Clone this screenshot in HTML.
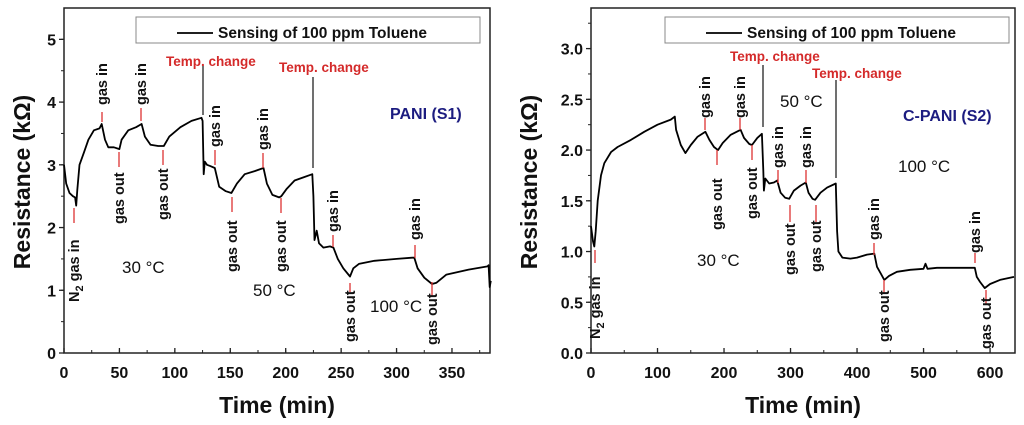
<!DOCTYPE html>
<html><head><meta charset="utf-8"><style>
body{margin:0;background:#fff}
svg{display:block;font-family:"Liberation Sans",Arial,sans-serif}
</style></head><body>
<svg id="s" width="1024" height="425" viewBox="0 0 1024 425"></svg>
<script>
// Left panel data (time min, resistance kOhm)
const leftTime=[0,2,5,8,10,11,12,14,18,22,27,32,34,37,40,45,50,52,58,65,70,73,78,85,90,95,105,115,124,125,126,127,129,132,136,140,146,151,156,163,172,180,183,188,194,196,201,208,216,224,225,226,228,230,234,240,243,247,252,258,261,266,280,300,314,316,319,325,332,336,345,365,382,383,384,385];
const leftRes=[3.0,2.7,2.55,2.5,2.48,2.35,2.6,3.0,3.2,3.4,3.55,3.58,3.65,3.4,3.28,3.28,3.25,3.4,3.55,3.6,3.65,3.45,3.32,3.3,3.3,3.45,3.6,3.7,3.75,3.7,2.85,3.05,3.0,2.98,2.95,2.65,2.58,2.55,2.7,2.85,2.9,2.95,2.7,2.52,2.48,2.5,2.62,2.75,2.8,2.85,2.5,1.8,1.95,1.75,1.68,1.7,1.68,1.5,1.35,1.22,1.35,1.42,1.47,1.5,1.52,1.52,1.35,1.2,1.1,1.12,1.25,1.33,1.38,1.4,1.05,1.15];
// Right panel data
const rightTime=[0,3,5,7,10,15,20,30,40,60,80,100,120,126,128,135,142,150,160,172,178,185,191,198,210,225,230,238,242,250,257,259,260,262,268,275,280,285,292,298,305,315,323,327,333,337,345,355,368,370,372,378,390,400,415,426,430,436,441,448,460,480,500,503,506,520,540,560,577,580,585,592,600,615,636];
const rightRes=[1.25,1.1,1.05,1.2,1.5,1.75,1.87,1.98,2.03,2.1,2.18,2.25,2.3,2.33,2.2,2.05,1.97,2.05,2.13,2.18,2.1,2.03,2.0,2.07,2.15,2.2,2.12,2.06,2.05,2.12,2.16,1.8,1.6,1.72,1.67,1.68,1.7,1.58,1.53,1.52,1.6,1.65,1.68,1.58,1.52,1.51,1.58,1.63,1.67,1.2,1.0,0.94,0.93,0.94,0.97,0.98,0.85,0.78,0.72,0.76,0.8,0.82,0.83,0.88,0.83,0.84,0.84,0.84,0.84,0.75,0.7,0.64,0.68,0.72,0.75];
const leftXTicks=[0,50,100,150,200,250,300,350];
const leftYTicks=[0,1,2,3,4,5];
const rightXTicks=[0,100,200,300,400,500,600];
const rightYTicks=["0.0","0.5","1.0","1.5","2.0","2.5","3.0"];

const NS="http://www.w3.org/2000/svg";
const svg=document.getElementById('s');
function mk(tag,attrs,parent,txt){const e=document.createElementNS(NS,tag);for(const k in attrs)e.setAttribute(k,attrs[k]);if(txt!==undefined)e.textContent=txt;(parent||svg).appendChild(e);return e;}

function panel(cfg){
  const g=mk('g',{});
  
  
  const X=t=>cfg.x0+(t-cfg.xmin)/(cfg.xmax-cfg.xmin)*(cfg.x1-cfg.x0);
  const Y=r=>cfg.y0-(r-cfg.ymin)/(cfg.ymax-cfg.ymin)*(cfg.y0-cfg.y1);
  const fr=mk('rect',{x:cfg.x0,y:cfg.y1,width:cfg.x1-cfg.x0,height:cfg.y0-cfg.y1,fill:'none',stroke:'#222','stroke-width':1.5},g);
  
  cfg.xticks.forEach(v=>{
    mk('line',{x1:X(v),x2:X(v),y1:cfg.y0,y2:cfg.y0-5,stroke:'#222','stroke-width':1.3},g);
    const t=mk('text',{x:X(v),y:cfg.y0+25,'text-anchor':'middle','font-size':16,'font-weight':'bold',fill:'#111'},g,v);
    
  });
  for(let v=cfg.xmin+cfg.xminor;v<cfg.xmax;v+=cfg.xminor)mk('line',{x1:X(v),x2:X(v),y1:cfg.y0,y2:cfg.y0-3,stroke:'#222','stroke-width':1},g);
  cfg.yticks.forEach(v=>{
    const n=parseFloat(v);
    mk('line',{x1:cfg.x0,x2:cfg.x0-5,y1:Y(n),y2:Y(n),stroke:'#222','stroke-width':1.3},g);
    const t=mk('text',{x:cfg.x0-8,y:Y(n)+6,'text-anchor':'end','font-size':16,'font-weight':'bold',fill:'#111'},g,v);
    
  });
  for(let v=cfg.ymin+cfg.yminor;v<cfg.ymax;v+=cfg.yminor)mk('line',{x1:cfg.x0,x2:cfg.x0-3,y1:Y(v),y2:Y(v),stroke:'#222','stroke-width':1},g);
  const xt=mk('text',{x:(cfg.x0+cfg.x1)/2,y:413,'text-anchor':'middle','font-size':23,'font-weight':'bold',fill:'#111'},g,'Time (min)');
  
  const yt=mk('text',{x:0,y:0,'text-anchor':'middle','font-size':23,'font-weight':'bold',fill:'#111',transform:`translate(${cfg.ytx},182) rotate(-90)`},g,'Resistance (kΩ)');
  
  const pts=cfg.t.map((t,i)=>X(t).toFixed(1)+','+Y(cfg.r[i]).toFixed(1)).join(' ');
  const pl=mk('polyline',{points:pts,fill:'none',stroke:'#000','stroke-width':1.8,'stroke-linejoin':'round'},g);
  
  const lg=mk('g',{},g);
  mk('rect',{x:cfg.lx,y:17,width:344,height:26,fill:'#fff',stroke:'#888','stroke-width':1},lg);
  mk('line',{x1:cfg.lx+41,x2:cfg.lx+77,y1:33,y2:33,stroke:'#000','stroke-width':1.8},lg);
  mk('text',{x:cfg.lx+82,y:38,'font-size':15.5,'font-weight':'bold',fill:'#111'},lg,'Sensing of 100 ppm Toluene');
  cfg.ann.forEach(a=>{
    mk('line',{x1:a[0],x2:a[0],y1:a[1],y2:a[2],stroke:'#d33','stroke-width':1.3},g);
    const t=mk('text',{x:0,y:0,'font-size':14.5,'font-weight':'bold',fill:'#111',transform:`translate(${a[0]+5},${a[4]}) rotate(-90)`},g);
    if(a[3]==='N2'){t.textContent='N';mk('tspan',{'font-size':11,dy:4},t,'2');mk('tspan',{dy:-4},t,' gas in');}
    else t.textContent=a[3];
    
  });
  cfg.temp.forEach(a=>{
    mk('line',{x1:a[0],x2:a[0],y1:a[1],y2:a[2],stroke:'#111','stroke-width':1.2},g);
    const t=mk('text',{x:a[3],y:a[4],'font-size':13.5,'font-weight':'bold',fill:'#d42a2a'},g,'Temp. change');
    
  });
  cfg.labels.forEach(a=>{
    const t=mk('text',{x:a[0],y:a[1],'font-size':a[3],'font-weight':a[4]||'normal',fill:a[5]||'#111'},g,a[2]);
    
  });
}

panel({name:'left-panel-pani',x0:64,x1:490,y0:353,y1:8,xmin:0,xmax:384.3,ymin:0,ymax:5.5,xminor:25,yminor:0.5,
  xticks:leftXTicks,yticks:leftYTicks,t:leftTime,r:leftRes,ytx:30,lx:136,
  ann:[[74,208,223,'N2',302],[102,112,122,'gas in',105],[119,152,167,'gas out',224],[141,108,121,'gas in',105],[163,150,165,'gas out',220],
       [215,150,165,'gas in',147],[232,197,212,'gas out',272],[263,153,168,'gas in',150],[281,198,213,'gas out',272],
       [333,235,247,'gas in',232],[350,283,292,'gas out',342],[415,245,258,'gas in',240],[432,282,297,'gas out',345]],
  temp:[[203,65,115,166,66],[313,77,168,279,72]],
  labels:[[122,273,'30 °C',17],[253,296,'50 °C',17],[370,312,'100 °C',17],[390,119,'PANI (S1)',16,'bold','#1c1c80']]});

panel({name:'right-panel-cpani',x0:591,x1:1015,y0:353,y1:8,xmin:0,xmax:637.5,ymin:0,ymax:3.4,xminor:50,yminor:0.25,
  xticks:rightXTicks,yticks:rightYTicks,t:rightTime,r:rightRes,ytx:537,lx:665,
  ann:[[595,250,263,'N2',339],[705,118,130,'gas in',118],[717,150,165,'gas out',230],[740,118,130,'gas in',118],[752,145,160,'gas out',219],
       [778,170,183,'gas in',168],[790,205,222,'gas out',275],[806,170,183,'gas in',168],[816,205,222,'gas out',272],
       [874,243,255,'gas in',240],[884,280,293,'gas out',342],[975,253,263,'gas in',253],[986,290,305,'gas out',349]],
  temp:[[763,65,127,730,61],[836,80,178,812,78]],
  labels:[[697,266,'30 °C',17],[780,107,'50 °C',17],[898,172,'100 °C',17],[903,121,'C-PANI (S2)',16,'bold','#1c1c80']]});
</script>
</body></html>
